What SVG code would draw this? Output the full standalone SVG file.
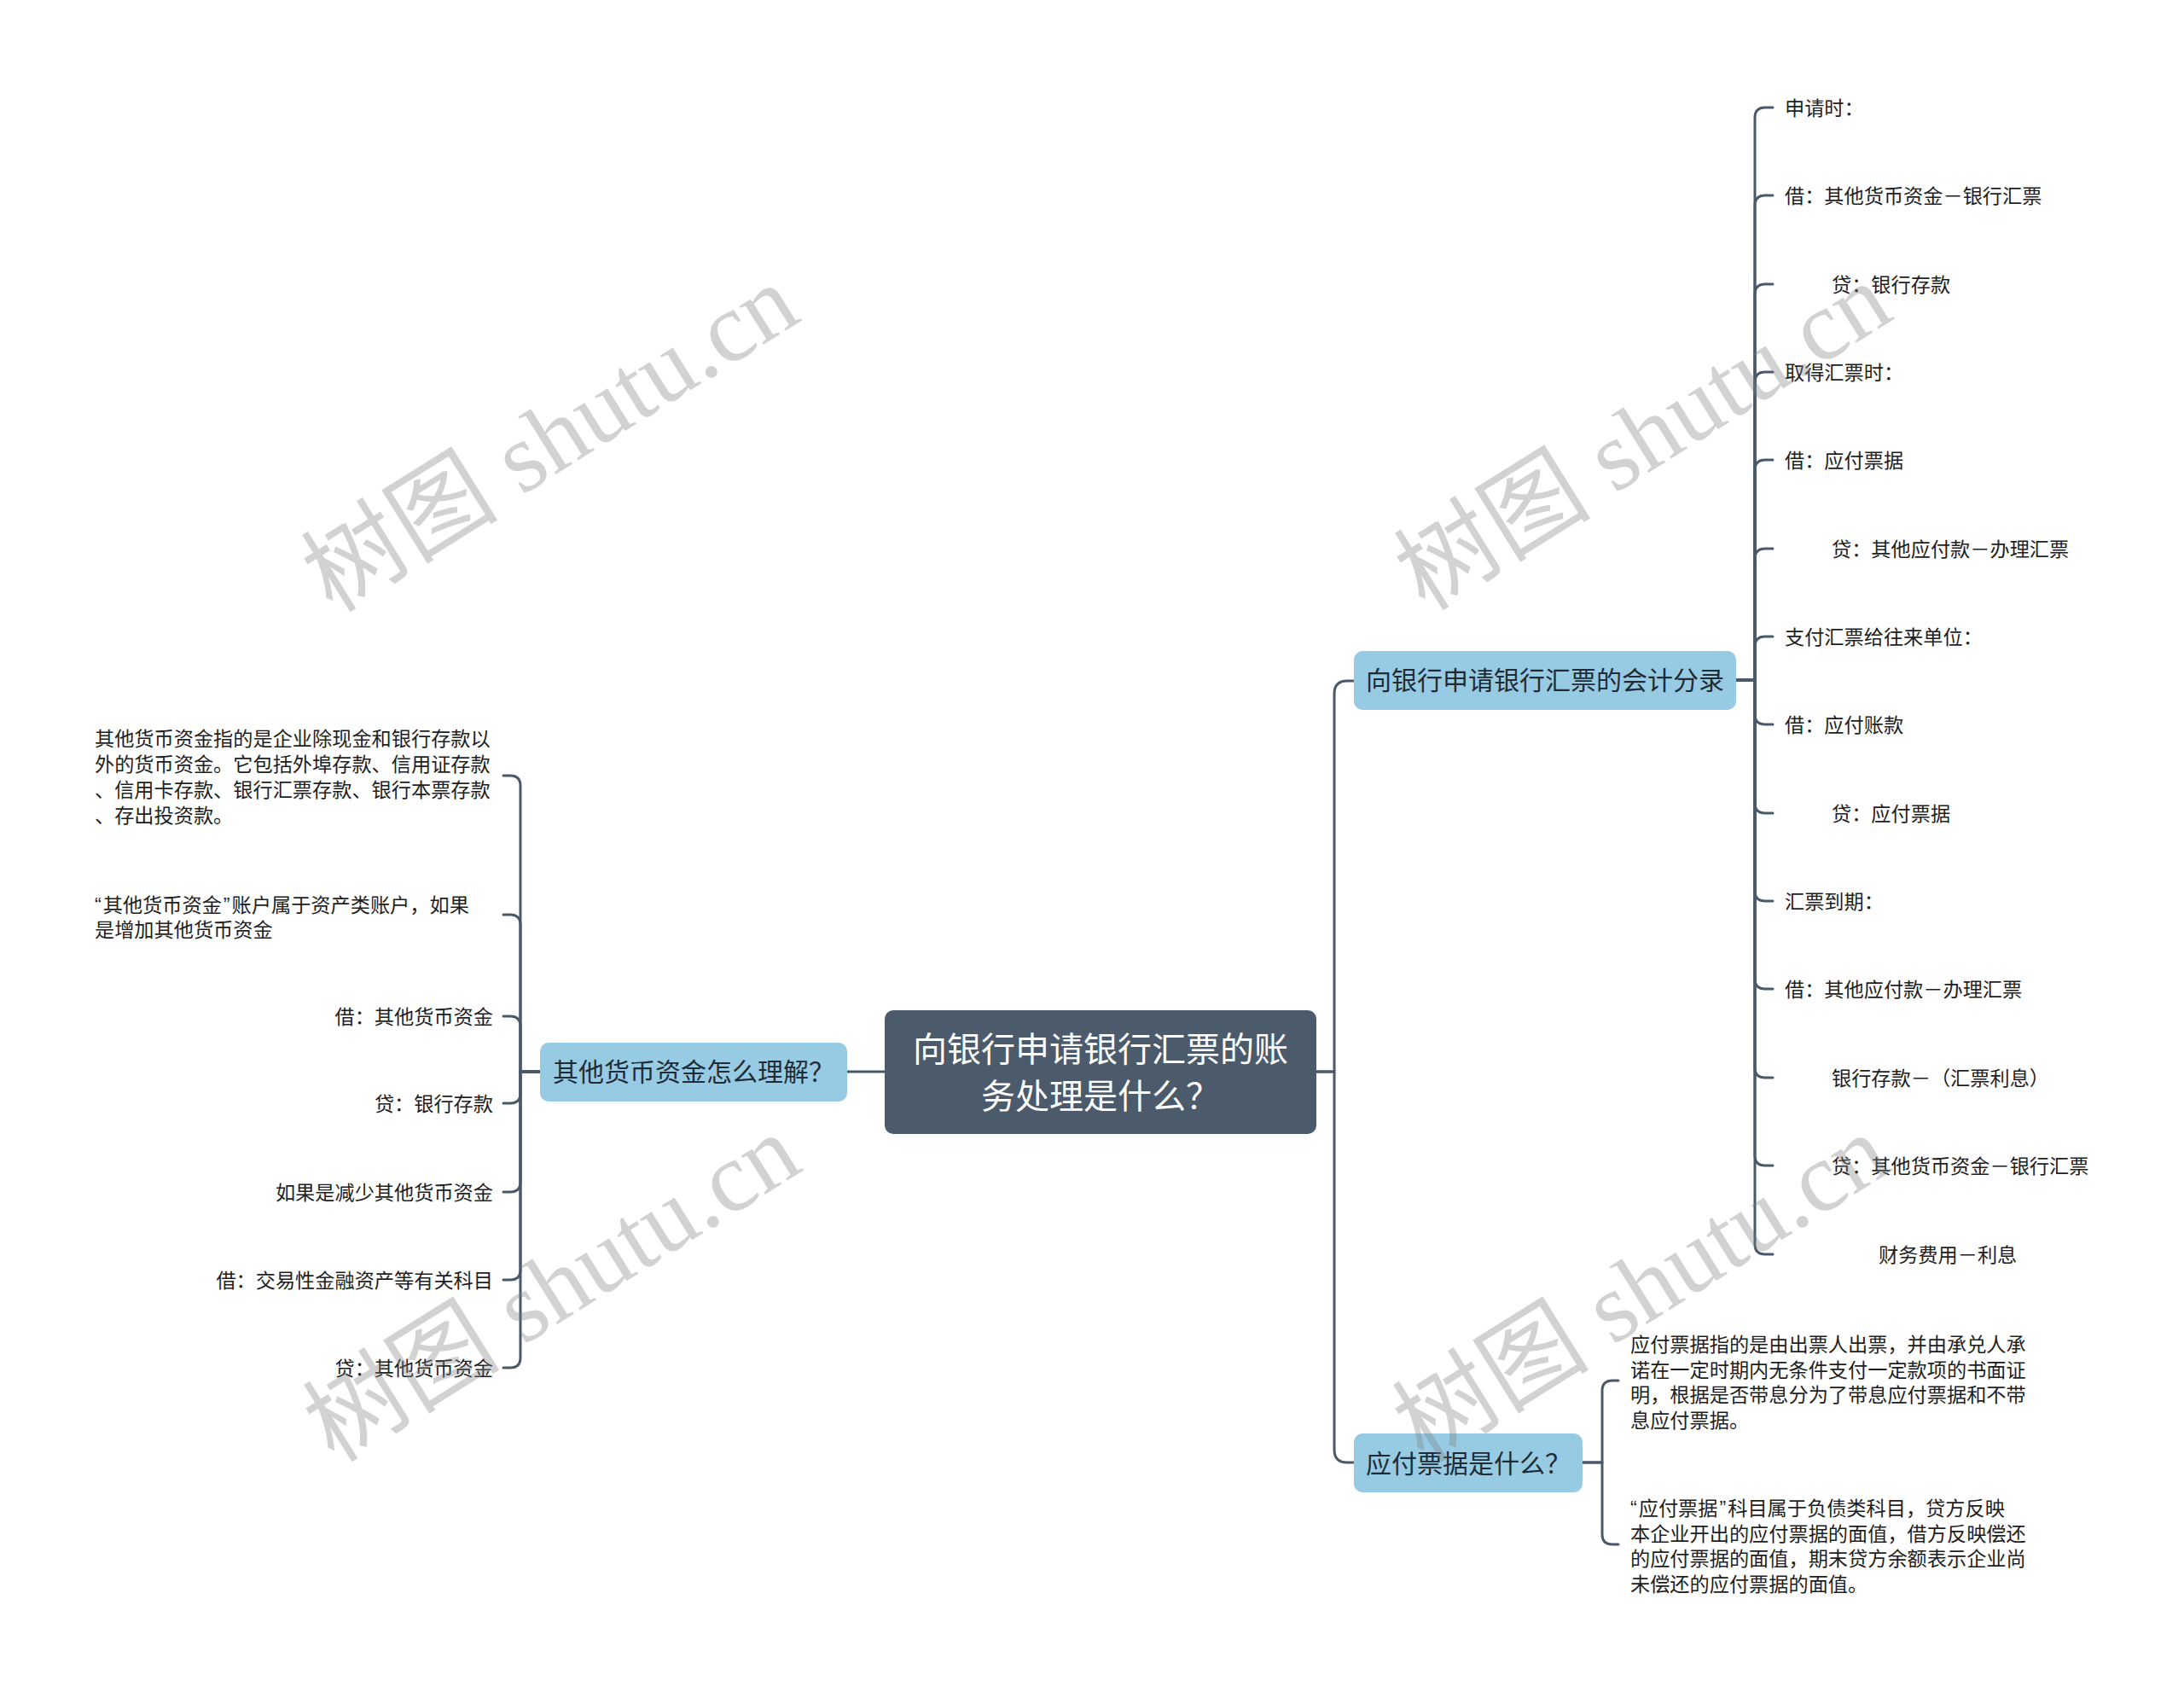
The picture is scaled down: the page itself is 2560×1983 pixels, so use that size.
<svg xmlns="http://www.w3.org/2000/svg" width="2560" height="1983" viewBox="0 0 2560 1983">
<style>
.ln{fill:none;stroke:#4a5969;stroke-width:3;stroke-linecap:round;stroke-linejoin:round}
.root{fill:#4b5b6b}
.br{fill:#96cbe3}
.rt{font-family:"Noto Sans CJK SC","Noto Sans",sans-serif;font-size:40px;fill:#ffffff;text-anchor:middle}
.bt{font-family:"Noto Sans CJK SC","Noto Sans",sans-serif;font-size:30px;fill:#1f2b36;text-anchor:middle}
.lf{font-family:"Noto Sans CJK SC","Noto Sans",sans-serif;font-size:23.2px;fill:#1e1e1e}
.le{text-anchor:end}
.q{font-family:"Liberation Sans",sans-serif}
.wm{font-family:"Liberation Serif","Noto Sans CJK SC",serif;font-size:116px;fill:#7f7f7f;opacity:0.35;text-anchor:middle}
</style>
<rect width="2560" height="1983" fill="#ffffff"/>
<g id="connectors">
<path class="ln" d="M1037 1256 H993"/>
<path class="ln" d="M1543 1256 H1564 V813 Q1564 798 1579 798 H1587"/>
<path class="ln" d="M1543 1256 H1564 V1699 Q1564 1714 1579 1714 H1587"/>
<path class="ln" d="M633 1256 H610 V921 Q610 909 598 909 H590"/>
<path class="ln" d="M633 1256 H610 V1084 Q610 1072 598 1072 H590"/>
<path class="ln" d="M633 1256 H610 V1203 Q610 1191 598 1191 H590"/>
<path class="ln" d="M633 1256 H610 V1281 Q610 1293 598 1293 H590"/>
<path class="ln" d="M633 1256 H610 V1385 Q610 1397 598 1397 H590"/>
<path class="ln" d="M633 1256 H610 V1488 Q610 1500 598 1500 H590"/>
<path class="ln" d="M633 1256 H610 V1591 Q610 1603 598 1603 H590"/>
<path class="ln" d="M2036 797 H2057 V138 Q2057 126 2069 126 H2078"/>
<path class="ln" d="M2036 797 H2057 V241 Q2057 229 2069 229 H2078"/>
<path class="ln" d="M2036 797 H2057 V345 Q2057 333 2069 333 H2078"/>
<path class="ln" d="M2036 797 H2057 V448 Q2057 436 2069 436 H2078"/>
<path class="ln" d="M2036 797 H2057 V551 Q2057 539 2069 539 H2078"/>
<path class="ln" d="M2036 797 H2057 V655 Q2057 643 2069 643 H2078"/>
<path class="ln" d="M2036 797 H2057 V758 Q2057 746 2069 746 H2078"/>
<path class="ln" d="M2036 797 H2057 V837 Q2057 849 2069 849 H2078"/>
<path class="ln" d="M2036 797 H2057 V941 Q2057 953 2069 953 H2078"/>
<path class="ln" d="M2036 797 H2057 V1044 Q2057 1056 2069 1056 H2078"/>
<path class="ln" d="M2036 797 H2057 V1147 Q2057 1159 2069 1159 H2078"/>
<path class="ln" d="M2036 797 H2057 V1251 Q2057 1263 2069 1263 H2078"/>
<path class="ln" d="M2036 797 H2057 V1354 Q2057 1366 2069 1366 H2078"/>
<path class="ln" d="M2036 797 H2057 V1458 Q2057 1470 2069 1470 H2078"/>
<path class="ln" d="M1855 1714 H1878 V1630 Q1878 1618 1890 1618 H1897"/>
<path class="ln" d="M1855 1714 H1878 V1798 Q1878 1810 1890 1810 H1897"/>
</g>
<g id="root">
<rect class="root" x="1037" y="1184" width="506" height="145" rx="10"/>
<text class="rt" x="1290" y="1244">向银行申请银行汇票的账</text>
<text class="rt" x="1290" y="1299">务处理是什么？</text>
</g>
<g id="b-left">
<rect class="br" x="633" y="1222" width="360" height="69" rx="10"/>
<text class="bt" x="813" y="1267">其他货币资金怎么理解？</text>
</g>
<g id="b-right1">
<rect class="br" x="1587" y="763" width="448" height="69" rx="10"/>
<text class="bt" x="1811" y="808">向银行申请银行汇票的会计分录</text>
</g>
<g id="b-right2">
<rect class="br" x="1587" y="1680" width="268" height="69" rx="10"/>
<text class="bt" x="1721" y="1726">应付票据是什么？</text>
</g>
<g id="l1"><text class="lf" x="111" y="874">其他货币资金指的是企业除现金和银行存款以</text><text class="lf" x="111" y="904">外的货币资金。它包括外埠存款、信用证存款</text><text class="lf" x="111" y="934">、信用卡存款、银行汇票存款、银行本票存款</text><text class="lf" x="111" y="964">、存出投资款。</text></g>
<g id="l2"><text class="lf" x="111" y="1069"><tspan class="q">“</tspan><tspan dx="2">其他货币资金</tspan><tspan class="q" dx="2">”</tspan><tspan dx="2">账户属于资产类账户，如果</tspan></text><text class="lf" x="111" y="1098">是增加其他货币资金</text></g>
<g id="l3"><text class="lf le" x="578" y="1200">借：其他货币资金</text></g>
<g id="l4"><text class="lf le" x="578" y="1302">贷：银行存款</text></g>
<g id="l5"><text class="lf le" x="578" y="1406">如果是减少其他货币资金</text></g>
<g id="l6"><text class="lf le" x="578" y="1509">借：交易性金融资产等有关科目</text></g>
<g id="l7"><text class="lf le" x="578" y="1612">贷：其他货币资金</text></g>
<g id="r1"><text class="lf" x="2092" y="135">申请时：</text></g>
<g id="r2"><text class="lf" x="2092" y="238">借：其他货币资金－银行汇票</text></g>
<g id="r3"><text class="lf" x="2147" y="342">贷：银行存款</text></g>
<g id="r4"><text class="lf" x="2092" y="445">取得汇票时：</text></g>
<g id="r5"><text class="lf" x="2092" y="548">借：应付票据</text></g>
<g id="r6"><text class="lf" x="2147" y="652">贷：其他应付款－办理汇票</text></g>
<g id="r7"><text class="lf" x="2092" y="755">支付汇票给往来单位：</text></g>
<g id="r8"><text class="lf" x="2092" y="858">借：应付账款</text></g>
<g id="r9"><text class="lf" x="2147" y="962">贷：应付票据</text></g>
<g id="r10"><text class="lf" x="2092" y="1065">汇票到期：</text></g>
<g id="r11"><text class="lf" x="2092" y="1168">借：其他应付款－办理汇票</text></g>
<g id="r12"><text class="lf" x="2147" y="1272">银行存款－（汇票利息）</text></g>
<g id="r13"><text class="lf" x="2147" y="1375">贷：其他货币资金－银行汇票</text></g>
<g id="r14"><text class="lf" x="2202" y="1479">财务费用－利息</text></g>
<g id="p1"><text class="lf" x="1911" y="1584">应付票据指的是由出票人出票，并由承兑人承</text><text class="lf" x="1911" y="1613.5">诺在一定时期内无条件支付一定款项的书面证</text><text class="lf" x="1911" y="1643">明，根据是否带息分为了带息应付票据和不带</text><text class="lf" x="1911" y="1672.5">息应付票据。</text></g>
<g id="p2"><text class="lf" x="1911" y="1776"><tspan class="q">“</tspan><tspan dx="2">应付票据</tspan><tspan class="q" dx="2">”</tspan><tspan dx="2">科目属于负债类科目，贷方反映</tspan></text><text class="lf" x="1911" y="1805.5">本企业开出的应付票据的面值，借方反映偿还</text><text class="lf" x="1911" y="1835">的应付票据的面值，期末贷方余额表示企业尚</text><text class="lf" x="1911" y="1864.5">未偿还的应付票据的面值。</text></g>
<g id="watermarks">
<text class="wm" transform="translate(645 514) rotate(-32)" dominant-baseline="central">树图 shutu.cn</text>
<text class="wm" transform="translate(1926 512) rotate(-32)" dominant-baseline="central">树图 shutu.cn</text>
<text class="wm" transform="translate(647 1510) rotate(-32)" dominant-baseline="central">树图 shutu.cn</text>
<text class="wm" transform="translate(1924 1510) rotate(-32)" dominant-baseline="central">树图 shutu.cn</text>
</g>
</svg>
